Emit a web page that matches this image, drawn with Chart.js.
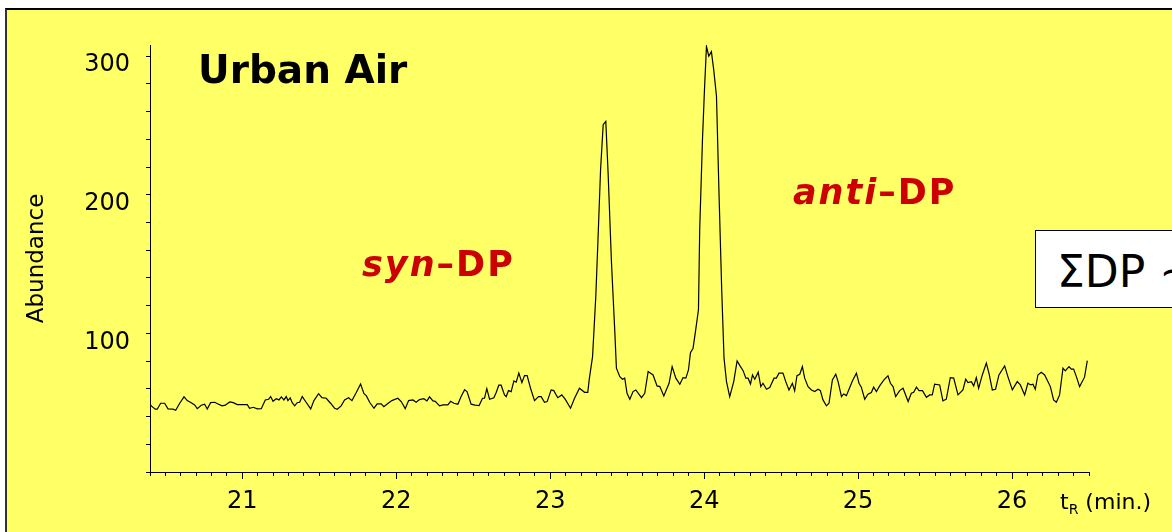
<!DOCTYPE html>
<html>
<head>
<meta charset="utf-8">
<title>Urban Air – DP</title>
<script src="https://cdn.jsdelivr.net/npm/chart.js@4.4.1/dist/chart.umd.min.js"></script>
<style>
  html, body { margin: 0; padding: 0; background: #fff; overflow: hidden; }
  #slide { width: 1172px; height: 532px; position: relative; overflow: hidden; font-family: "DejaVu Sans", sans-serif; color: #000; }
  #panel { position: absolute; left: 5px; top: 8px; width: 1200px; height: 540px; background: #ffff66; border-top: 2px solid #000; border-left: 2px solid #333; }
  #chromatogram { position: absolute; left: 0; top: 0; }
  .note { position: absolute; white-space: nowrap; line-height: 1; }
  .sample { left: 198px; top: 50px; font-size: 39px; font-weight: bold; }
  .isomer { font-size: 35px; font-weight: bold; color: #cc0000; letter-spacing: 2px; }
  .isomer i { font-style: italic; }
  .syn { left: 362px; top: 247px; }
  .anti { left: 793px; top: 175px; }
  .total-box { position: absolute; left: 1035px; top: 230px; width: 160px; height: 76px; background: #fff; border: 1.5px solid #000; }
  .total { left: 1057px; top: 250px; font-size: 44px; }
  .xunit { left: 1060px; top: 491px; font-size: 22px; }
  .xunit .sub { font-size: 14px; position: relative; top: 5px; }
</style>
</head>
<body>
<div id="slide">
<div id="panel"></div>
<canvas id="chromatogram" width="1172" height="532"></canvas>
<div class="note sample">Urban Air</div>
<div class="note isomer syn"><i>syn</i>–DP</div>
<div class="note isomer anti"><i>anti</i>–DP</div>
<div class="total-box"></div>
<div class="note total">ΣDP ~</div>
<div class="note xunit">t<span class="sub">R</span> (min.)</div>
</div>
<script>
// retention time (min) and detector abundance of the trace
const retentionTimes = [
  20.400, 20.408, 20.434, 20.447, 20.469, 20.495, 20.517, 20.549, 20.567, 20.593,
  20.621, 20.642, 20.668, 20.690, 20.707, 20.733, 20.755, 20.772, 20.794, 20.820,
  20.842, 20.868, 20.889, 20.918, 20.941, 20.967, 21.032, 21.047, 21.071, 21.097,
  21.123, 21.149, 21.171, 21.184, 21.199, 21.220, 21.238, 21.253, 21.270, 21.285,
  21.296, 21.311, 21.324, 21.340, 21.356, 21.372, 21.389, 21.413, 21.444, 21.465,
  21.495, 21.517, 21.545, 21.573, 21.599, 21.616, 21.642, 21.664, 21.690, 21.712,
  21.740, 21.768, 21.790, 21.805, 21.827, 21.855, 21.876, 21.902, 21.919, 21.941,
  21.971, 22.010, 22.032, 22.058, 22.080, 22.108, 22.129, 22.151, 22.179, 22.199,
  22.216, 22.238, 22.253, 22.281, 22.303, 22.335, 22.353, 22.374, 22.400, 22.421,
  22.444, 22.460, 22.486, 22.512, 22.538, 22.560, 22.573, 22.588, 22.606, 22.634,
  22.649, 22.666, 22.681, 22.703, 22.714, 22.729, 22.746, 22.764, 22.779, 22.796,
  22.816, 22.833, 22.850, 22.872, 22.898, 22.924, 22.941, 22.963, 22.980, 23.006,
  23.023, 23.049, 23.075, 23.097, 23.132, 23.158, 23.190, 23.223, 23.244,
  23.253, 23.275, 23.296, 23.311, 23.327, 23.344, 23.361, 23.376, 23.398, 23.419,
  23.430, 23.452, 23.469, 23.484, 23.499, 23.517, 23.538, 23.556, 23.593, 23.614,
  23.636, 23.668, 23.694, 23.712, 23.738, 23.772, 23.792, 23.816, 23.842, 23.863,
  23.881, 23.898, 23.911, 23.928, 23.945, 23.963, 23.971, 23.989, 24.002, 24.015,
  24.030, 24.047, 24.062, 24.080, 24.097, 24.114, 24.129, 24.145, 24.166, 24.192,
  24.214, 24.236, 24.253, 24.271, 24.285, 24.301, 24.314, 24.329, 24.351, 24.368,
  24.382, 24.405, 24.426, 24.454, 24.469, 24.486, 24.512, 24.530, 24.551, 24.573,
  24.588, 24.603, 24.621, 24.638, 24.653, 24.675, 24.697, 24.718, 24.740, 24.755,
  24.772, 24.794, 24.811, 24.833, 24.855, 24.870, 24.892, 24.906, 24.924, 24.941,
  24.963, 24.989, 25.006, 25.021, 25.043, 25.064, 25.086, 25.101, 25.119, 25.140,
  25.168, 25.194, 25.210, 25.227, 25.244, 25.270, 25.292, 25.325, 25.346, 25.361,
  25.379, 25.396, 25.418, 25.444, 25.465, 25.482, 25.497, 25.530, 25.551, 25.573,
  25.599, 25.621, 25.649, 25.681, 25.699, 25.714, 25.736, 25.751, 25.768, 25.783,
  25.807, 25.833, 25.850, 25.872, 25.893, 25.915, 25.952, 25.973, 26.002, 26.034,
  26.054, 26.082, 26.103, 26.121, 26.136, 26.151, 26.168, 26.190, 26.212, 26.249,
  26.270, 26.288, 26.309, 26.331, 26.346, 26.370, 26.385, 26.400, 26.418, 26.439,
  26.471, 26.489
];

const abundance = [
  49.1, 47.7, 45.3, 45.3, 49.6, 49.6, 45.5, 45.3, 44.5, 49.6,
  54.2, 51.5, 50.0, 48.4, 45.7, 48.2, 48.9, 45.5, 50.0, 50.3,
  49.1, 47.7, 48.2, 50.5, 50.0, 48.6, 48.6, 46.0, 46.7, 45.5,
  45.7, 52.0, 52.5, 54.4, 51.0, 52.9, 52.0, 54.2, 52.0, 54.4,
  51.5, 53.4, 50.0, 47.7, 50.0, 50.3, 54.4, 50.5, 45.5, 51.5,
  56.5, 53.6, 53.2, 49.6, 46.0, 45.3, 47.7, 52.0, 53.6, 51.5,
  57.3, 63.5, 56.5, 55.1, 50.3, 46.0, 49.1, 49.1, 47.1, 49.1,
  51.5, 53.2, 50.8, 45.7, 51.5, 52.0, 50.3, 52.2, 52.9, 51.3,
  54.2, 51.3, 51.0, 47.7, 48.4, 48.4, 51.0, 49.6, 48.9, 54.4,
  59.4, 57.8, 48.9, 48.2, 47.9, 53.2, 53.2, 60.1, 52.5, 53.6,
  57.3, 62.6, 62.6, 55.6, 54.4, 58.7, 58.0, 65.7, 64.8, 71.3,
  64.5, 69.5, 69.5, 60.4, 51.5, 54.4, 54.4, 50.3, 50.8, 59.2,
  58.7, 53.6, 55.6, 52.5, 46.0, 53.2, 60.4, 57.5, 57.5,
  66.4, 83.2, 126.6, 169.9, 218.0, 250.5, 252.9, 215.7, 150.7, 102.5,
  74.9, 68.8, 66.9, 67.7, 56.8, 52.5, 58.0, 59.2, 53.6, 56.8,
  72.4, 70.0, 62.1, 61.6, 54.9, 64.0, 76.0, 67.7, 63.3, 68.1,
  67.7, 73.6, 86.1, 89.3, 102.5, 117.0, 174.7, 239.7, 275.8, 307.0,
  299.9, 303.2, 290.2, 271.0, 198.8, 131.4, 82.1, 65.2, 54.4, 65.2,
  80.1, 76.0, 73.1, 67.7, 67.7, 63.5, 70.0, 66.9, 72.0, 61.6,
  64.0, 59.7, 60.9, 67.7, 67.7, 71.3, 71.3, 65.2, 59.2, 64.0,
  58.5, 69.5, 70.5, 76.0, 67.7, 61.6, 59.2, 58.0, 59.7, 58.7,
  52.0, 47.7, 49.6, 66.4, 70.5, 65.2, 54.4, 56.3, 55.1, 59.7,
  65.7, 71.3, 64.0, 61.2, 52.5, 56.1, 57.3, 61.2, 58.0, 62.1,
  66.4, 69.3, 64.0, 61.6, 54.4, 58.7, 60.4, 50.8, 56.8, 57.5,
  61.2, 58.7, 58.7, 53.9, 55.6, 55.6, 63.3, 62.8, 51.3, 52.5,
  68.1, 67.7, 55.6, 59.2, 66.9, 64.5, 65.2, 62.1, 68.1, 60.4,
  70.0, 78.5, 71.3, 59.2, 59.7, 70.0, 76.5, 68.8, 59.2, 65.2,
  62.8, 55.6, 64.0, 62.8, 63.3, 59.7, 70.0, 72.0, 70.0, 61.6,
  52.0, 50.3, 55.6, 74.9, 72.9, 76.0, 74.2, 74.2, 68.8, 61.6,
  68.4, 80.4
];

// labelled ticks
const xTickLabels = [21, 22, 23, 24, 25, 26];
const yTickLabels = [100, 200, 300];

const timeMin = 20.4;
const timeMax = 26.5;
const abundanceMax = 308;

const axisFont = { family: '"DejaVu Sans", sans-serif', size: 24 };

function initChromatogram() {
  const ctx = document.getElementById('chromatogram');
  new Chart(ctx, {
    type: 'line',
    data: {
      datasets: [{
        data: retentionTimes.map((t, i) => ({ x: t, y: abundance[i] })),
        borderColor: '#000',
        borderWidth: 1.2,
        pointRadius: 0,
        tension: 0,
        fill: false,
        xAxisID: 'x',
        yAxisID: 'y'
      }]
    },
    options: {
      responsive: false,
      animation: false,
      devicePixelRatio: 1,
      layout: { padding: { top: 45, right: 83, left: 0, bottom: 0 } },
      plugins: {
        legend: { display: false },
        tooltip: { enabled: false }
      },
      scales: {
        // minor ticks every 0.1 min, no labels, zero height so the major axis sits on the same line
        x: {
          type: 'linear',
          position: 'bottom',
          weight: 0,
          min: timeMin,
          max: timeMax,
          grid: { drawOnChartArea: false, tickLength: 4, color: '#000' },
          border: { color: '#000', width: 1 },
          ticks: { display: false, stepSize: 0.1, autoSkip: false, includeBounds: false },
          afterFit: s => { s.height = 0; }
        },
        xMajor: {
          type: 'linear',
          position: 'bottom',
          weight: 1,
          min: timeMin,
          max: timeMax,
          grid: { drawOnChartArea: false, tickLength: 7, color: '#000' },
          border: { color: '#000', width: 1 },
          ticks: {
            stepSize: 1,
            autoSkip: false,
            includeBounds: false,
            maxRotation: 0,
            color: '#000',
            font: axisFont,
            padding: 8,
            callback: v => xTickLabels.includes(v) ? String(v) : ''
          },
          afterFit: s => { s.height = 60; }
        },
        y: {
          type: 'linear',
          min: 0,
          max: abundanceMax,
          grid: { drawOnChartArea: false, tickLength: 4, color: '#000' },
          border: { color: '#000', width: 1 },
          ticks: {
            stepSize: 20,
            autoSkip: false,
            includeBounds: false,
            color: '#000',
            font: axisFont,
            padding: 16,
            labelOffset: 9,
            callback: v => yTickLabels.includes(v) ? String(v) : ''
          },
          title: {
            display: true,
            text: 'Abundance',
            color: '#000',
            font: { family: '"DejaVu Sans", sans-serif', size: 23 },
            padding: { top: 23, bottom: 0 }
          },
          afterFit: s => { s.width = 150; }
        }
      }
    }
  });
}

document.addEventListener('DOMContentLoaded', initChromatogram);
</script>
</body>
</html>
